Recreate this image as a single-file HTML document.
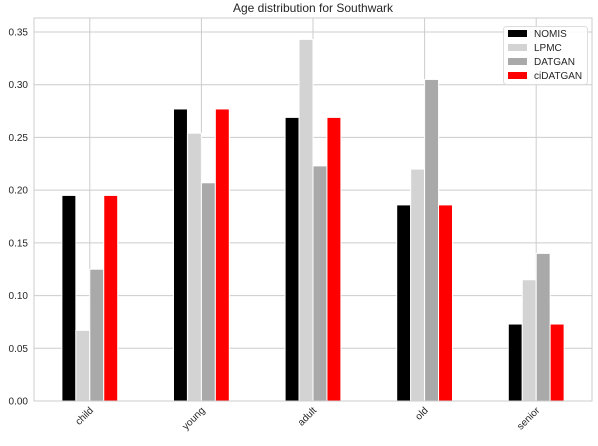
<!DOCTYPE html>
<html><head><meta charset="utf-8"><style>
body{margin:0;background:#fff;font-family:"Liberation Sans",sans-serif;}
svg text{font-family:"Liberation Sans",sans-serif;}
</style></head><body>
<svg id="c" width="598" height="441"></svg>
<script>
const categories=["child","young","adult","old","senior"];
const seriesNames=["NOMIS","LPMC","DATGAN","ciDATGAN"];
const seriesColors=["#000000","#d3d3d3","#a9a9a9","#ff0000"];
const nomis=[0.195,0.277,0.269,0.186,0.073];
const lpmc=[0.067,0.254,0.343,0.220,0.115];
const datgan=[0.125,0.207,0.223,0.305,0.140];
const cidatgan=[0.195,0.277,0.269,0.186,0.073];
const yTicks=[0,0.05,0.10,0.15,0.20,0.25,0.30,0.35];
const series=[nomis,lpmc,datgan,cidatgan];
const L=34,R=592,T=18,B=401,yMax=0.36;
const NS="http://www.w3.org/2000/svg";
const svg=document.getElementById('c');
function y(v){return B-v/0.35*369;}
function x(i){return L+(i+0.5)*(R-L)/categories.length;}
function mk(t,a,p){const e=document.createElementNS(NS,t);for(const k in a)e.setAttribute(k,a[k]);(p||svg).appendChild(e);return e;}
const title=mk('text',{x:(L+R)/2,y:12,'text-anchor':'middle','font-size':12,fill:'#262626'});title.textContent="Age distribution for Southwark";


const grid=mk('g',{});


yTicks.forEach(t=>{mk('line',{x1:L,x2:R,y1:y(t),y2:y(t),stroke:'#cccccc','stroke-width':1},grid);
const lb=mk('text',{x:L-6,y:y(t)+3.5,'text-anchor':'end','font-size':10,fill:'#262626'});lb.textContent=t.toFixed(2);

});
categories.forEach((c,i)=>{mk('line',{x1:x(i),x2:x(i),y1:T,y2:B,stroke:'#cccccc','stroke-width':1},grid);
const lb=mk('text',{x:0,y:0,'text-anchor':'end','font-size':10,fill:'#262626',transform:`translate(${x(i)+4},${B+10}) rotate(-45)`});lb.textContent=c;

});
const bw=(R-L)/categories.length*0.125;
series.forEach((s,j)=>{s.forEach((v,i)=>{const bx=x(i)-2*bw+j*bw;
const r=mk('rect',{x:bx,y:y(v),width:bw,height:B-y(v),fill:seriesColors[j],stroke:'#fff','stroke-width':1});

});});
const frame=mk('rect',{x:L,y:T,width:R-L,height:B-T,fill:'none',stroke:'#cccccc','stroke-width':1});


const lg=mk('g',{});


mk('rect',{x:503.5,y:26.5,width:84,height:58,rx:3,fill:'#fff','fill-opacity':0.85,stroke:'#dddddd'},lg);
seriesNames.forEach((n,j)=>{const yy=33+j*14;
const sw=mk('rect',{x:508,y:yy-3,width:19,height:7,fill:seriesColors[j]},lg);


const t=mk('text',{x:534,y:yy+4,'font-size':10,fill:'#262626'},lg);t.textContent=n;

});
</script>
</body></html>
